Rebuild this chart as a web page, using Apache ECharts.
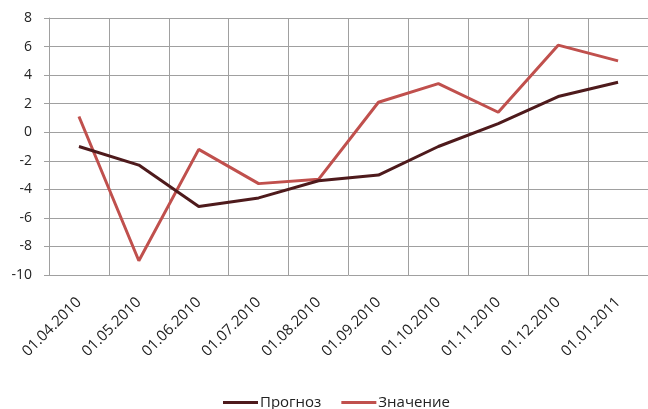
<!DOCTYPE html>
<html><head><meta charset="utf-8">
<script src="https://cdn.jsdelivr.net/npm/echarts@6/dist/echarts.min.js"></script>
<style>html,body{margin:0;padding:0;background:#fff}#c{width:648px;height:409px}</style>
</head><body><div id="c"></div>
<script>
const categories = ['01.04.2010','01.05.2010','01.06.2010','01.07.2010','01.08.2010','01.09.2010','01.10.2010','01.11.2010','01.12.2010','01.01.2011'];
const forecast = [-1.0, -2.3, -5.2, -4.6, -3.4, -3.0, -1.0, 0.6, 2.5, 3.5];
const actual = [1.1, -9.0, -1.2, -3.6, -3.3, 2.1, 3.4, 1.4, 6.1, 5.0];
const seriesNames = ['Прогноз', 'Значение'];
const yMin = -10, yMax = 8, yStep = 2;

const chart = echarts.init(document.getElementById('c'), null, {renderer:'canvas'});
const font = 'Open Sans, Liberation Sans, sans-serif';
chart.setOption({
  animation: false,
  grid: {left: 49, top: 18, right: -9, bottom: 134, containLabel: false},
  legend: {
    bottom: -6, left: 218,
    itemWidth: 35, itemHeight: 3, itemGap: 20,
    icon: 'rect',
    textStyle: {fontFamily: font, fontSize: 15, color: '#222', padding: [0,0,0,-3]},
    data: seriesNames
  },
  xAxis: {
    type: 'category', data: categories, boundaryGap: true,
    axisLine: {lineStyle: {color: '#a0a0a0', width: 1}},
    axisTick: {show: true, length: 5, lineStyle: {color: '#a0a0a0'}, alignWithLabel: false},
    splitLine: {show: true, lineStyle: {color: '#a0a0a0', width: 1}},
    axisLabel: {rotate: 45, margin: 25, fontFamily: font, fontSize: 15, color: '#222', interval: 0}
  },
  yAxis: {
    type: 'value', min: yMin, max: yMax, interval: yStep,
    axisLine: {show: true, lineStyle: {color: '#a0a0a0', width: 1}},
    axisTick: {show: true, length: 5, lineStyle: {color: '#a0a0a0'}},
    splitLine: {show: true, lineStyle: {color: '#a0a0a0', width: 1}},
    axisLabel: {margin: 17, fontFamily: font, fontSize: 14, color: '#222'}
  },
  series: [
    {name: seriesNames[0], type: 'line', data: forecast, symbol: 'none', color: '#4e1a1c',
     lineStyle: {width: 3, color: '#4e1a1c'}, z: 3},
    {name: seriesNames[1], type: 'line', data: actual, symbol: 'none', color: '#c0504d',
     lineStyle: {width: 3, color: '#c0504d'}, z: 2}
  ]
});
</script></body></html>
